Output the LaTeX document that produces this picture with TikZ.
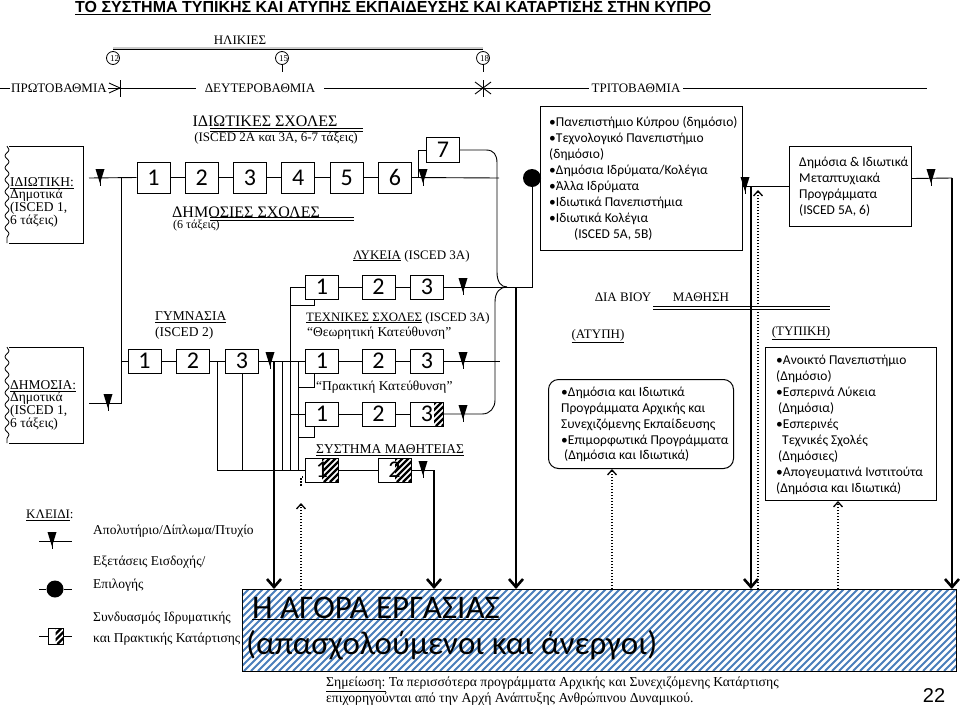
\documentclass[tikz,border=0pt]{standalone}
\usepackage{fontspec}
\setmainfont{Liberation Serif}
\newfontfamily\calf{Carlito}
\newfontfamily\arialf{Liberation Sans}
\usetikzlibrary{arrows.meta,decorations.pathmorphing}
\definecolor{stripeblue}{HTML}{4A7EBB}
\newcommand\myfs[1]{\fontsize{#1}{#1}\selectfont}
\newcommand\hatchzone[4]{%
  \begin{scope}
    \clip (#1,#2) rectangle (#3,#4);
    \foreach \k in {-40,-34,...,40} \draw[line width=2.2pt] ({#1+\k},#4) -- ({#1+\k+#4-#2},#2);
  \end{scope}}
\tikzset{
  ln/.style={line width=0.9pt},
  dbl/.style={line width=1.1pt},
  thk/.style={line width=2.6pt,-{Straight Barb[length=8pt,width=14pt]}},
  dtt/.style={line width=1.5pt,dash pattern=on 1.5pt off 1.5pt},
  dtarr/.style={dtt,-{Straight Barb[length=5pt,width=9pt,line width=1.3pt]}},
  nb/.style={draw,line width=1pt,minimum width=33pt,minimum height=24pt,inner sep=0pt,font=\calf\myfs{24}},
  tb/.style={nb,minimum height=31pt},
  lbl/.style={inner sep=0pt,font=\myfs{13.5}},
  txtbox/.style={draw,line width=1pt,inner sep=0pt,anchor=north west},
  tri/.pic={\fill (-4.5,-9) -- (4.5,-9) -- (0,5.5) -- cycle; \draw[line width=0.9pt] (0,-9) -- (0,8);},
}
\begin{document}
\begin{tikzpicture}[x=1pt,y=-1pt]
\useasboundingbox (0,0) rectangle (960,707);

% title
\node[anchor=west,inner sep=0pt,font=\arialf\bfseries\myfs{16}] (title) at (75,8) {\underline{ΤΟ ΣΥΣΤΗΜΑ ΤΥΠΙΚΗΣ ΚΑΙ ΑΤΥΠΗΣ ΕΚΠΑΙΔΕΥΣΗΣ ΚΑΙ ΚΑΤΑΡΤΙΣΗΣ ΣΤΗΝ ΚΥΠΡΟ}};

% ages
\node[lbl,font=\myfs{13}] (ages) at (240,40) {ΗΛΙΚΙΕΣ};
\draw[line width=0.7pt,double=gray!40,double distance=1.6pt] (113,48) -- (483,48);
\foreach \ax/\nm/\tx in {113/c12/12, 282/c15/15, 483/c18/18} {
  \node[circle,draw,line width=0.8pt,minimum size=13pt,inner sep=0pt] (\nm) at (\ax,58) {};
  \node[anchor=west,inner sep=0pt,font=\myfs{9}] (t\nm) at (\ax-3,59) {\tx};
}
\draw[ln] (c15.south) -- (282,72);
\draw[ln] (c18.south) -- (483,72);

% levels
\draw[ln] (0,88) -- (927,88);
\node[lbl,font=\myfs{13},fill=white,inner xsep=1pt,inner ysep=3pt] (prim) at (59,88) {ΠΡΩΤΟΒΑΘΜΙΑ};
\draw[ln] (109,83) -- (120,88) -- (109,93);
\draw[ln] (120,80) -- (120,97);
\node[lbl,font=\myfs{13},fill=white,inner xsep=9pt,inner ysep=3pt] (sec) at (260,88) {ΔΕΥΤΕΡΟΒΑΘΜΙΑ};
\draw[ln] (483,80) -- (483,97);
\draw[ln] (475,82) -- (483,88) -- (475,94);
\draw[ln] (491,82) -- (483,88) -- (491,94);
\node[lbl,font=\myfs{13},fill=white,inner xsep=3pt,inner ysep=3pt] (ter) at (636,88) {ΤΡΙΤΟΒΑΘΜΙΑ};

% school labels
\node[lbl,font=\myfs{16}] (ps) at (265,121) {ΙΔΙΩΤΙΚΕΣ ΣΧΟΛΕΣ};
\draw[dbl] (210,128.5) -- (363,128.5);
\draw[dbl] (210,131.5) -- (363,131.5);
\node[lbl,font=\myfs{13}] (psi) at (276,138.5) {(ISCED 2A και 3A, 6-7 τάξεις)};
\node[lbl,font=\myfs{16},anchor=west] (pub) at (172,212) {ΔΗΜΟΣΙΕΣ ΣΧΟΛΕΣ};
\draw[dbl] (210,217.5) -- (354,217.5);
\draw[dbl] (210,220.5) -- (354,220.5);
\node[lbl,font=\myfs{12},anchor=west] (pubt) at (173,226) {(6 τάξεις)};
\node[lbl,font=\myfs{13},anchor=west] (lyk) at (353,256) {\underline{ΛΥΚΕΙΑ} (ISCED 3A)};
\node[lbl,anchor=west] (gym) at (155,317) {\underline{ΓΥΜΝΑΣΙΑ}};
\node[lbl,anchor=west] (gymi) at (155,333) {(ISCED 2)};
\node[lbl,font=\myfs{12.8},anchor=west] (tech) at (306,318) {\underline{ΤΕΧΝΙΚΕΣ ΣΧΟΛΕΣ} (ISCED 3A)};
\node[lbl,anchor=west] (theo) at (307,333) {“Θεωρητική Κατεύθυνση”};
\node[lbl,anchor=west] (prak) at (316,387) {“Πρακτική Κατεύθυνση”};
\node[lbl,anchor=west] (math) at (316,450) {\underline{ΣΥΣΤΗΜΑ ΜΑΘΗΤΕΙΑΣ}};

% left boxes
\draw[line width=1pt] (9,146) -- (83,146) -- (83,243) -- (9,243);
\draw[line width=0.8pt,decorate,decoration={snake,amplitude=2pt,segment length=12pt}] (7,146) -- (7,243);
\node[anchor=north west,align=left,inner sep=0pt,font=\fontsize{13.5}{12.7}\selectfont] (priv) at (10,177) {\underline{ΙΔΙΩΤΙΚΗ:}\\Δημοτικά\\(ISCED 1,\\6 τάξεις)};
\draw[line width=1pt] (9,347) -- (83,347) -- (83,443) -- (9,443);
\draw[line width=0.8pt,decorate,decoration={snake,amplitude=2pt,segment length=12pt}] (7,347) -- (7,443);
\node[anchor=north west,align=left,inner sep=0pt,font=\fontsize{13.5}{12.7}\selectfont] (publ) at (10,380) {\underline{ΔΗΜΟΣΙΑ:}\\Δημοτικά\\(ISCED 1,\\6 τάξεις)};

% top row
\foreach \i/\xx in {1/153.5,2/201.8,3/250,4/298.3,5/346.6,6/395} \node[tb] (p\i) at (\xx,177.5) {\i};
\node[nb,minimum height=25pt] (p7) at (443,150) {7};
\draw[ln] (89,178) -- (p1.west);
\foreach \i/\j in {1/2,2/3,3/4,4/5,5/6} \draw[ln] (p\i.east) -- (p\j.west);
\draw[ln] (p6.east) -- (499,178);
\draw[ln] (121,178) -- (121,403) -- (89,403);
\draw[ln] (418,178) -- (418,150) -- (p7.west);
\pic at (100,178) {tri};
\pic at (108,403) {tri};
\pic at (423,178) {tri};

% hatches
\hatchzone{434}{402}{443.5}{426}
\hatchzone{322}{458}{338.5}{482}
\hatchzone{395}{458}{411}{482}
\hatchzone{55.5}{628}{63}{644}

% gymnasium
\foreach \i/\xx in {1/144.5,2/193,3/242} \node[nb] (g\i) at (\xx,361) {\i};
\draw[ln] (121,361) -- (g1.west);
\draw[ln] (g1.east) -- (g2.west);
\draw[ln] (g2.east) -- (g3.west);

% lyceum rows
\foreach \r/\yy in {1/287,2/361,3/414} {
  \foreach \i/\xx in {1/322,2/378.5,3/427} \node[nb] (l\r\i) at (\xx,\yy) {\i};
  \draw[ln] (l\r1.east) -- (l\r2.west);
  \draw[ln] (l\r2.east) -- (l\r3.west);
  \pic at (463,\yy) {tri};
}
\node[nb] (m1) at (322,470) {1};
\node[nb] (m2) at (394.5,470) {2};
\draw[ln] (m1.east) -- (m2.west);
\draw[ln] (m2.east) -- (434,470);
\pic at (423,470) {tri};

% connections
\draw[ln] (g3.east) -- (l21.west);
\pic at (270,361) {tri};
\draw[ln] (217,361) -- (217,470) -- (m1.west);
\draw[ln] (g3.south) -- (242,470);
\draw[ln] (282,361) -- (282,470);
\draw[ln] (l11.west) -- (290,287) -- (290,470);
\draw[ln] (290,414) -- (l31.west);
\draw[ln] (298,361) -- (298,470);
\draw[ln] (314,299) -- (314,305) -- (290,305);
\draw[ln] (314,373) -- (314,387) -- (298,387);
\draw[ln] (314,426) -- (314,437) -- (298,437);
\draw[ln] (l13.east) -- (507,287);
\draw[ln] (l23.east) -- (500,361);

% brace
\draw[ln] (p7.east) -- (486,150) .. controls (494,150) and (497,155) .. (497,163) -- (497,272) .. controls (497,282) and (501,287) .. (507,287);
\draw[ln] (507,287) .. controls (500,287) and (495,292) .. (495,302) -- (495,400) .. controls (495,408) and (490,414) .. (482,414) -- (l33.east);

% tertiary
\node[txtbox,minimum width=202pt,minimum height=144pt] (uni) at (540,106) {};
\node[anchor=north west,align=left,inner sep=0pt,font=\calf\fontsize{13.5}{16.1}\selectfont] (unit) at (549,116) {•Πανεπιστήμιο Κύπρου (δημόσιο)\\•Τεχνολογικό Πανεπιστήμιο\\(δημόσιο)\\•Δημόσια Ιδρύματα/Κολέγια\\•Άλλα Ιδρύματα\\•Ιδιωτικά Πανεπιστήμια\\•Ιδιωτικά Κολέγια\\\hspace*{25pt}(ISCED 5A, 5B)};
\node[circle,fill,minimum size=18pt,inner sep=0pt] (uc) at (532,178) {};
\draw[ln] (uc) -- (uc -| uni.west);
\draw[ln] (507,287) -- (532,287) -- (uc);

\node[txtbox,minimum width=122pt,minimum height=80pt] (meta) at (789,146) {};
\node[anchor=north west,align=left,inner sep=0pt,font=\calf\fontsize{13.5}{16}\selectfont] (metat) at (799,157) {Δημόσια \& Ιδιωτικά\\Μεταπτυχιακά\\Προγράμματα\\(ISCED 5A, 6)};
\draw[ln] (meta.west) -- (meta.west -| uni.east);
\pic at (745,186) {tri};
\draw[ln] ([yshift=8pt]meta.east) -- (952,178);
\pic at (931,178) {tri};

% lifelong learning
\node[lbl,font=\myfs{13}] (dia) at (623,297) {ΔΙΑ ΒΙΟΥ};
\node[lbl,font=\myfs{13}] (mth) at (701,297) {ΜΑΘΗΣΗ};
\draw[dbl] (653,306.5) -- (830,306.5);
\draw[dbl] (653,309.8) -- (830,309.8);
\node[lbl,font=\myfs{13}] (atyl) at (598,336) {\underline{(ΑΤΥΠΗ)}};
\node[lbl,font=\myfs{13}] (typl) at (801,333) {\underline{(ΤΥΠΙΚΗ)}};
\node[txtbox,rounded corners=10pt,minimum width=185pt,minimum height=89pt] (aty) at (548,379) {};
\node[anchor=north west,align=left,inner sep=0pt,font=\calf\fontsize{13.5}{15.8}\selectfont] (atyt) at (561,387) {•Δημόσια και Ιδιωτικά\\Προγράμματα Αρχικής και\\Συνεχιζόμενης Εκπαίδευσης\\•Επιμορφωτικά Προγράμματα\\\hspace*{3pt}(Δημόσια και Ιδιωτικά)};
\node[txtbox,minimum width=171pt,minimum height=153pt] (typ) at (765,347) {};
\node[anchor=north west,align=left,inner sep=0pt,font=\calf\fontsize{13.5}{16}\selectfont] (typt) at (776,355) {•Ανοικτό Πανεπιστήμιο\\(Δημόσιο)\\•Εσπερινά Λύκεια\\\hspace*{2pt}(Δημόσια)\\•Εσπερινές\\\hspace*{6pt}Τεχνικές Σχολές\\\hspace*{2pt}(Δημόσιες)\\•Απογευματινά Ινστιτούτα\\(Δημόσια και Ιδιωτικά)};

% labour market
\begin{scope}
  \clip (242,589) rectangle (956,671);
  \foreach \k in {160,167,...,960} \draw[stripeblue,line width=2pt] (\k,671) -- (\k+82,589);
\end{scope}
\node[txtbox,minimum width=714pt,minimum height=82pt] (lab) at (242,589) {};
\node[anchor=base west,inner sep=0pt,font=\calf\myfs{33}] (labt1) at (252,618) {\underline{Η ΑΓΟΡΑ ΕΡΓΑΣΙΑΣ}};
\node[anchor=base west,inner sep=0pt,font=\calf\myfs{33}] (labt2) at (246,654) {(απασχολούμενοι και άνεργοι)};

% thick arrows to labour market
\coordinate (k1) at (274,361);
\coordinate (k2) at (434,470);
\coordinate (k3) at (516,287);
\coordinate (k4) at (751,186);
\coordinate (k5) at (952,178);
\foreach \kk in {k1,k2,k3,k4,k5} \draw[thk] (\kk) -- (\kk |- lab.north);

% dotted arrows
\coordinate (d1) at (301,589);
\draw[dtarr] (d1) -- (301,503);
\draw[dtt] (306,477) -- (301,477) -- (301,487);
\coordinate (d2) at (612,589);
\draw[dtarr] (d2) -- (d2 |- aty.south);
\coordinate (d3) at (838,589);
\draw[dtarr] (d3) -- (d3 |- typ.south);
\coordinate (d4) at (758,589);
\draw[dtarr] (d4) -- (758,190);

% key
\node[lbl,font=\myfs{13},anchor=west] (key) at (26,515) {\underline{ΚΛΕΙΔΙ}:};
\draw[ln] (39,541) -- (72,541);
\pic at (52,541) {tri};
\node[lbl,anchor=west] (k1t) at (93,531) {Απολυτήριο/Δίπλωμα/Πτυχίο};
\node[lbl,anchor=west] (k2t) at (93,562) {Εξετάσεις Εισδοχής/};
\node[lbl,anchor=west] (k2u) at (93,585) {Επιλογής};
\node[circle,fill,minimum size=17pt,inner sep=0pt] (kc) at (55,589) {};
\draw[ln] (39,589) -- (kc) -- (72,589);
\node[lbl,anchor=west] (k3t) at (93,618) {Συνδυασμός Ιδρυματικής};
\node[lbl,anchor=west] (k3u) at (93,639) {και Πρακτικής Κατάρτισης};
\node[draw,line width=1pt,minimum width=15pt,minimum height=16pt,inner sep=0pt] (kb) at (55.5,636) {};
\draw[ln] (39,636) -- (kb.west);
\draw[ln] (kb.east) -- (72,636);

% note
\node[lbl,font=\myfs{13.7},anchor=west] (note1) at (326,684) {\underline{Σημείωση:} Τα περισσότερα προγράμματα Αρχικής και Συνεχιζόμενης Κατάρτισης};
\node[lbl,font=\myfs{13.7},anchor=west] (note2) at (326,699) {επιχορηγούνται από την Αρχή Ανάπτυξης Ανθρώπινου Δυναμικού.};
\node[inner sep=0pt,font=\arialf\myfs{20}] (pg) at (934,696) {22};
\end{tikzpicture}
\end{document}
